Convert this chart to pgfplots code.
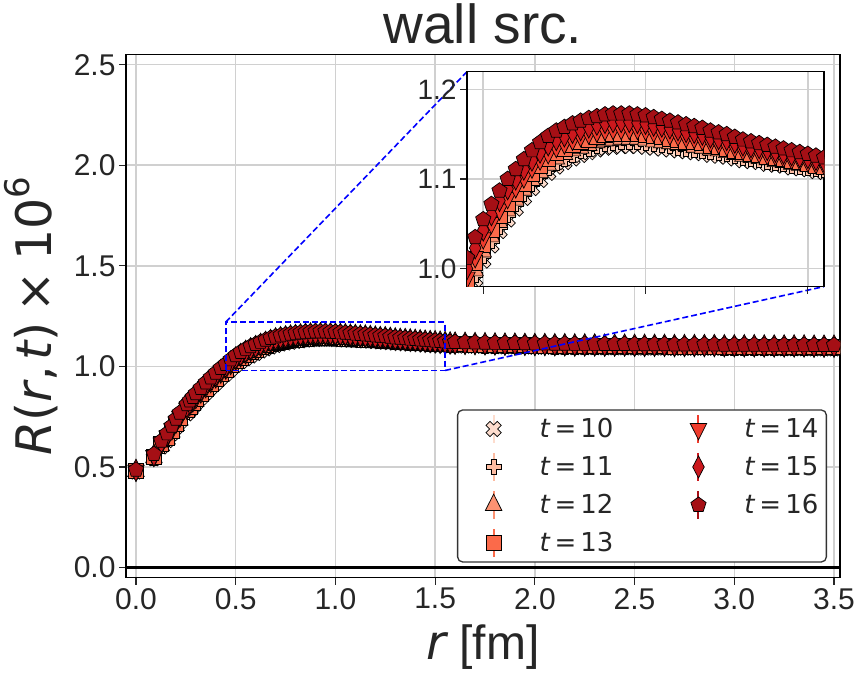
\documentclass[border=0pt]{standalone}
\usepackage{pgfplots}
\pgfplotsset{compat=1.18}
\usepackage{pgfplotstable}
\usepackage{fontspec}
\setmainfont{Liberation Sans}
\newfontfamily\dv{DejaVu Sans}
\definecolor{c10}{HTML}{FDDCCD}
\definecolor{c11}{HTML}{FCBBA1}
\definecolor{c12}{HTML}{FC9272}
\definecolor{c13}{HTML}{FB6A4A}
\definecolor{c14}{HTML}{EF3B2C}
\definecolor{c15}{HTML}{CB181D}
\definecolor{c16}{HTML}{A50F15}
\definecolor{tickc}{HTML}{262626}
\definecolor{gridc}{HTML}{D0D0D0}
\pgfdeclareplotmark{Pf}{%
  \pgfpathmoveto{\pgfqpoint{0.36\pgfplotmarksize}{\pgfplotmarksize}}%
  \pgfpathlineto{\pgfqpoint{0.36\pgfplotmarksize}{0.36\pgfplotmarksize}}%
  \pgfpathlineto{\pgfqpoint{\pgfplotmarksize}{0.36\pgfplotmarksize}}%
  \pgfpathlineto{\pgfqpoint{\pgfplotmarksize}{-0.36\pgfplotmarksize}}%
  \pgfpathlineto{\pgfqpoint{0.36\pgfplotmarksize}{-0.36\pgfplotmarksize}}%
  \pgfpathlineto{\pgfqpoint{0.36\pgfplotmarksize}{-\pgfplotmarksize}}%
  \pgfpathlineto{\pgfqpoint{-0.36\pgfplotmarksize}{-\pgfplotmarksize}}%
  \pgfpathlineto{\pgfqpoint{-0.36\pgfplotmarksize}{-0.36\pgfplotmarksize}}%
  \pgfpathlineto{\pgfqpoint{-\pgfplotmarksize}{-0.36\pgfplotmarksize}}%
  \pgfpathlineto{\pgfqpoint{-\pgfplotmarksize}{0.36\pgfplotmarksize}}%
  \pgfpathlineto{\pgfqpoint{-0.36\pgfplotmarksize}{0.36\pgfplotmarksize}}%
  \pgfpathlineto{\pgfqpoint{-0.36\pgfplotmarksize}{\pgfplotmarksize}}%
  \pgfpathclose\pgfusepathqfillstroke}
\pgfplotsset{
  s10/.style={only marks, mark=Pf, mark size=8pt, mark options={sharp corners, rotate=45, fill=c10, draw=black, line width=0.7pt}},
  s11/.style={only marks, mark=Pf, mark size=7.5pt, mark options={sharp corners, fill=c11, draw=black, line width=0.7pt}},
  s12/.style={only marks, mark=triangle*, mark size=9.5pt, mark options={sharp corners, yscale=1.15, fill=c12, draw=black, line width=0.7pt}},
  s13/.style={only marks, mark=square*, mark size=7.5pt, mark options={sharp corners, fill=c13, draw=black, line width=0.7pt}},
  s14/.style={only marks, mark=triangle*, mark size=9.5pt, mark options={sharp corners, rotate=180, yscale=1.15, fill=c14, draw=black, line width=0.7pt}},
  s15/.style={only marks, mark=diamond*, mark size=11pt, mark options={sharp corners, xscale=0.7, fill=c15, draw=black, line width=0.7pt}},
  s16/.style={only marks, mark=pentagon*, mark size=8pt, mark options={sharp corners, fill=c16, draw=black, line width=0.7pt}},
  errleg/.style={legend image code/.code={%
      \path[draw=none, fill=none] (-30pt,-15pt) rectangle (20pt,15pt);
      \draw[sharp corners, line width=2pt, draw=#1] (0pt,-14pt) -- (0pt,14pt);
      \draw[sharp corners, ##1] plot coordinates {(0pt,0pt)};}},
}
\pgfplotstableread{
r y10 y11 y12 y13 y14 y15 y16
0.000 0.478 0.479 0.480 0.481 0.482 0.484 0.486
0.090 0.544 0.546 0.548 0.552 0.555 0.559 0.564
0.127 0.602 0.605 0.608 0.613 0.617 0.623 0.630
0.156 0.634 0.638 0.641 0.647 0.652 0.659 0.667
0.180 0.668 0.672 0.676 0.682 0.688 0.696 0.705
0.201 0.700 0.704 0.709 0.715 0.722 0.730 0.740
0.220 0.727 0.732 0.736 0.743 0.750 0.759 0.770
0.255 0.767 0.772 0.777 0.784 0.791 0.801 0.812
0.270 0.784 0.789 0.794 0.801 0.809 0.818 0.830
0.285 0.802 0.807 0.812 0.819 0.827 0.836 0.848
0.300 0.819 0.824 0.829 0.837 0.844 0.854 0.866
0.325 0.846 0.851 0.856 0.864 0.871 0.881 0.893
0.350 0.872 0.877 0.883 0.890 0.898 0.908 0.920
0.375 0.897 0.902 0.908 0.915 0.923 0.933 0.945
0.400 0.920 0.925 0.931 0.938 0.946 0.956 0.968
0.425 0.944 0.949 0.955 0.962 0.970 0.980 0.992
0.450 0.965 0.970 0.975 0.983 0.990 1.000 1.012
0.475 0.988 0.993 0.998 1.006 1.013 1.023 1.035
0.500 1.009 1.014 1.019 1.026 1.034 1.043 1.055
0.525 1.026 1.031 1.036 1.043 1.051 1.060 1.072
0.550 1.042 1.047 1.052 1.059 1.066 1.076 1.087
0.575 1.055 1.060 1.065 1.072 1.079 1.089 1.100
0.600 1.067 1.072 1.077 1.084 1.091 1.100 1.111
0.625 1.079 1.084 1.088 1.095 1.102 1.111 1.122
0.650 1.090 1.095 1.099 1.106 1.113 1.121 1.132
0.675 1.099 1.104 1.108 1.115 1.122 1.130 1.141
0.700 1.107 1.112 1.116 1.123 1.129 1.138 1.148
0.725 1.114 1.118 1.123 1.129 1.136 1.144 1.154
0.750 1.119 1.123 1.128 1.134 1.140 1.148 1.158
0.775 1.123 1.127 1.132 1.138 1.144 1.152 1.162
0.800 1.127 1.131 1.135 1.141 1.148 1.155 1.165
0.825 1.130 1.134 1.138 1.144 1.151 1.158 1.168
0.850 1.133 1.137 1.141 1.147 1.153 1.161 1.170
0.875 1.135 1.139 1.143 1.149 1.155 1.163 1.172
0.900 1.136 1.140 1.144 1.150 1.156 1.164 1.173
0.925 1.137 1.141 1.145 1.151 1.156 1.164 1.173
0.950 1.137 1.141 1.145 1.151 1.156 1.164 1.173
0.975 1.137 1.141 1.145 1.150 1.156 1.163 1.172
1.000 1.136 1.140 1.144 1.149 1.155 1.162 1.171
1.025 1.135 1.139 1.142 1.148 1.153 1.160 1.169
1.050 1.134 1.138 1.141 1.147 1.152 1.159 1.167
1.075 1.133 1.137 1.140 1.145 1.150 1.157 1.165
1.100 1.132 1.135 1.139 1.144 1.149 1.155 1.163
1.125 1.131 1.134 1.138 1.142 1.147 1.153 1.161
1.150 1.130 1.133 1.136 1.141 1.146 1.152 1.159
1.175 1.129 1.132 1.135 1.140 1.144 1.150 1.157
1.200 1.127 1.130 1.133 1.137 1.142 1.147 1.154
1.225 1.126 1.129 1.132 1.136 1.140 1.145 1.152
1.250 1.125 1.128 1.130 1.134 1.138 1.144 1.150
1.275 1.123 1.126 1.128 1.132 1.136 1.141 1.147
1.300 1.121 1.124 1.126 1.130 1.133 1.138 1.144
1.325 1.120 1.122 1.125 1.128 1.132 1.136 1.142
1.350 1.119 1.121 1.124 1.127 1.130 1.135 1.140
1.375 1.117 1.119 1.122 1.125 1.128 1.133 1.138
1.400 1.116 1.118 1.120 1.124 1.127 1.131 1.136
1.425 1.115 1.117 1.119 1.122 1.125 1.129 1.134
1.450 1.113 1.115 1.117 1.120 1.123 1.127 1.132
1.475 1.112 1.114 1.116 1.119 1.122 1.125 1.130
1.500 1.111 1.113 1.115 1.117 1.120 1.124 1.128
1.525 1.109 1.111 1.113 1.115 1.118 1.122 1.126
1.550 1.108 1.110 1.112 1.114 1.117 1.120 1.124
1.575 1.106 1.108 1.110 1.112 1.115 1.118 1.122
1.600 1.105 1.107 1.109 1.111 1.114 1.117 1.121
1.650 1.104 1.106 1.108 1.110 1.113 1.116 1.120
1.700 1.103 1.105 1.107 1.109 1.112 1.115 1.119
1.750 1.102 1.104 1.106 1.108 1.111 1.114 1.118
1.800 1.101 1.103 1.105 1.107 1.110 1.113 1.117
1.850 1.100 1.102 1.104 1.106 1.109 1.112 1.116
1.900 1.100 1.102 1.104 1.106 1.109 1.112 1.116
1.950 1.099 1.101 1.103 1.105 1.108 1.111 1.115
2.000 1.098 1.100 1.102 1.104 1.107 1.110 1.114
2.050 1.098 1.100 1.102 1.104 1.107 1.110 1.114
2.100 1.097 1.099 1.101 1.103 1.106 1.109 1.113
2.150 1.097 1.099 1.101 1.103 1.106 1.109 1.113
2.200 1.096 1.098 1.100 1.102 1.105 1.108 1.112
2.250 1.096 1.098 1.100 1.102 1.105 1.108 1.112
2.300 1.096 1.098 1.100 1.102 1.105 1.108 1.112
2.350 1.095 1.097 1.099 1.101 1.104 1.107 1.111
2.400 1.095 1.097 1.099 1.101 1.104 1.107 1.111
2.450 1.095 1.097 1.099 1.101 1.104 1.107 1.111
2.500 1.094 1.096 1.098 1.100 1.103 1.106 1.110
2.550 1.094 1.096 1.098 1.100 1.103 1.106 1.110
2.600 1.094 1.096 1.098 1.100 1.103 1.106 1.110
2.650 1.094 1.096 1.098 1.100 1.103 1.106 1.110
2.700 1.093 1.095 1.097 1.099 1.102 1.105 1.109
2.750 1.093 1.095 1.097 1.099 1.102 1.105 1.109
2.800 1.093 1.095 1.097 1.099 1.102 1.105 1.109
2.850 1.093 1.095 1.097 1.099 1.102 1.105 1.109
2.900 1.093 1.095 1.097 1.099 1.102 1.105 1.109
2.950 1.092 1.094 1.096 1.098 1.101 1.104 1.108
3.000 1.092 1.094 1.096 1.098 1.101 1.104 1.108
3.050 1.092 1.094 1.096 1.098 1.101 1.104 1.108
3.100 1.092 1.094 1.096 1.098 1.101 1.104 1.108
3.150 1.091 1.093 1.095 1.097 1.100 1.103 1.107
3.200 1.091 1.093 1.095 1.097 1.100 1.103 1.107
3.250 1.091 1.093 1.095 1.097 1.100 1.103 1.107
3.300 1.091 1.093 1.095 1.097 1.100 1.103 1.107
3.350 1.091 1.093 1.095 1.097 1.100 1.103 1.107
3.400 1.090 1.092 1.094 1.096 1.099 1.102 1.106
3.450 1.090 1.092 1.094 1.096 1.099 1.102 1.106
3.500 1.090 1.092 1.094 1.096 1.099 1.102 1.106
3.550 1.090 1.092 1.094 1.096 1.099 1.102 1.106
}\data
\begin{document}
\begin{tikzpicture}
\begin{axis}[
  name=main,
  width=714pt, height=523pt, scale only axis,
  xmin=-0.05, xmax=3.53, ymin=-0.05, ymax=2.55,
  clip marker paths=true,
  xtick={0,0.5,1,1.5,2,2.5,3,3.5},
  ytick={0,0.5,1,1.5,2,2.5},
  /pgf/number format/assume math mode=true,
  /pgf/number format/.cd, fixed, fixed zerofill, precision=1, /pgfplots/.cd,
  tick label style={font=\fontsize{30}{36}\selectfont, color=tickc},
  grid=major,
  grid style={color=gridc, line width=1.6pt},
  axis line style={black, line width=1.2pt},
  tick style={tickc, line width=1.2pt},
  tick align=outside, tick pos=left,
  major tick length=7pt,
  title={wall src.},
  title style={at={(axis description cs:0.5,1.048)}, anchor=center, font=\fontsize{55}{60}\selectfont, color=tickc},
  xlabel={{\dv\itshape r} [fm]},
  xlabel style={at={(axis description cs:0.5,-0.132)}, anchor=center, font=\fontsize{48}{54}\selectfont, color=tickc},
  ylabel={{\dv\itshape R\upshape(\itshape r\upshape,\hspace{6pt}\itshape t\upshape)\hspace{10pt}×\hspace{10pt}10\raisebox{0.45em}{\fontsize{34}{36}\selectfont 6}}},
  ylabel style={at={(axis description cs:-0.133,0.5)}, anchor=center, font=\fontsize{49}{54}\selectfont, color=tickc},
  legend columns=2,
  legend cell align=left,
  legend style={at={(rel axis cs:1,0)}, xshift=-13pt, yshift=15pt, anchor=south east,
    draw=black!80, line width=1.3pt, rounded corners=5pt, fill=white,
    font=\dv\fontsize{26}{31}\selectfont, text=tickc,
    inner xsep=6pt, inner ysep=4pt, row sep=8pt,
    /tikz/every odd column/.append style={column sep=24pt},
    /tikz/every even column/.append style={column sep=53pt}},
]
\addplot[forget plot, black, line width=2.6pt] coordinates {(-0.05,0) (3.53,0)};
\addplot[s10, forget plot] table[x=r, y=y10] {\data};
\addplot[s11, forget plot] table[x=r, y=y11] {\data};
\addplot[s12, forget plot] table[x=r, y=y12] {\data};
\addplot[s13, forget plot] table[x=r, y=y13] {\data};
\addplot[s14, forget plot] table[x=r, y=y14] {\data};
\addplot[s15, forget plot] table[x=r, y=y15] {\data};
\addplot[s16, forget plot] table[x=r, y=y16] {\data};
\addlegendimage{s10, errleg=c10}\addlegendentry{\textit{t}\hspace{4pt}=\hspace{4pt}10}
\addlegendimage{s14, errleg=c14}\addlegendentry{\textit{t}\hspace{4pt}=\hspace{4pt}14}
\addlegendimage{s11, errleg=c11}\addlegendentry{\textit{t}\hspace{4pt}=\hspace{4pt}11}
\addlegendimage{s15, errleg=c15}\addlegendentry{\textit{t}\hspace{4pt}=\hspace{4pt}15}
\addlegendimage{s12, errleg=c12}\addlegendentry{\textit{t}\hspace{4pt}=\hspace{4pt}12}
\addlegendimage{s16, errleg=c16}\addlegendentry{\textit{t}\hspace{4pt}=\hspace{4pt}16}
\addlegendimage{s13, errleg=c13}\addlegendentry{\textit{t}\hspace{4pt}=\hspace{4pt}13}
\draw[blue, line width=1.6pt, dash pattern=on 6pt off 3pt] (axis cs:0.45,0.98) rectangle (axis cs:1.55,1.22);
\draw[blue, line width=1.6pt, dash pattern=on 6pt off 3pt] (axis cs:0.45,1.22) -- (axis cs:1.660,2.4655);
\draw[blue, line width=1.6pt, dash pattern=on 6pt off 3pt] (axis cs:1.55,0.98) -- (axis cs:3.450,1.397);
\coordinate (insetSW) at (axis cs:1.660,1.397);
\coordinate (mainSW) at (rel axis cs:0,0);
\end{axis}
\begin{axis}[
  at={(insetSW)}, anchor=south west,
  width=357pt, height=215pt, scale only axis,
  xmin=0.45, xmax=1.55, ymin=0.98, ymax=1.22,
  clip marker paths=true,
  xtick={0.5,1,1.5}, xticklabels={},
  ytick={1.0,1.1,1.2},
  /pgf/number format/assume math mode=true,
  /pgf/number format/.cd, fixed, fixed zerofill, precision=1, /pgfplots/.cd,
  tick label style={font=\fontsize{28}{34}\selectfont, color=tickc},
  grid=major,
  grid style={color=gridc, line width=1.6pt},
  axis line style={black, line width=1.2pt},
  tick style={tickc, line width=1.2pt},
  tick align=outside, tick pos=left,
  major tick length=7pt,
  axis background/.style={fill=white},
]
\addplot[s10] table[x=r, y=y10] {\data};
\addplot[s11] table[x=r, y=y11] {\data};
\addplot[s12] table[x=r, y=y12] {\data};
\addplot[s13] table[x=r, y=y13] {\data};
\addplot[s14] table[x=r, y=y14] {\data};
\addplot[s15] table[x=r, y=y15] {\data};
\addplot[s16] table[x=r, y=y16] {\data};
\end{axis}
\path (mainSW) ++(-126pt,-106pt) rectangle ++(859pt,682pt);
\end{tikzpicture}
\end{document}
